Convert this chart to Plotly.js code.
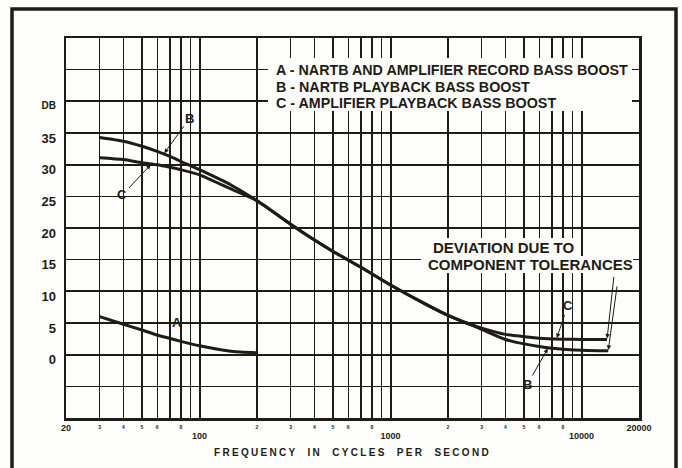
<!DOCTYPE html>
<html><head><meta charset="utf-8">
<script src="https://cdn.plot.ly/plotly-3.0.1.min.js"></script>
<style>
html,body{margin:0;padding:0;background:#fdfdfb}
.g-xtitle text{letter-spacing:2.3px}
</style>
</head><body><div id="chart" style="width:682px;height:468px"></div>
<script>
// ---- data ----
const freqA = [30, 40, 50, 60, 80, 100, 134, 150, 200];
const dbA   = [6.0, 4.8, 3.9, 3.1, 2.1, 1.4, 0.7, 0.5, 0.3];

const freqB = [30, 40, 50, 60, 70, 80, 100, 150, 200, 300, 400, 500, 700, 1000, 1500, 2000, 2500, 3000, 4000, 5000, 6000, 8000, 10000, 13800];
const dbB   = [34.3, 33.7, 32.9, 32.1, 31.3, 30.5, 29.2, 26.6, 24.3, 20.6, 18.1, 16.3, 13.8, 11.0, 8.1, 6.2, 5.0, 4.0, 2.4, 1.7, 1.3, 0.85, 0.7, 0.6];

const freqC = [30, 40, 50, 60, 70, 80, 100, 150, 200, 300, 400, 500, 700, 1000, 1500, 2000, 2500, 3000, 4000, 5000, 6000, 8000, 10000, 13600];
const dbC   = [31.1, 30.8, 30.3, 30.0, 29.6, 29.2, 28.4, 26.0, 24.3, 20.6, 18.1, 16.3, 13.8, 11.0, 8.1, 6.2, 5.0, 4.2, 3.2, 2.85, 2.6, 2.45, 2.4, 2.4];

const legendLines = [
  'A - NARTB AND AMPLIFIER RECORD BASS BOOST',
  'B - NARTB PLAYBACK BASS BOOST',
  'C - AMPLIFIER PLAYBACK BASS BOOST'
];
const noteLines = ['DEVIATION DUE TO', 'COMPONENT TOLERANCES'];
const xTitle = 'FREQUENCY  IN  CYCLES  PER  SECOND';

// axis ticks / grid
const xGridMajor = [50, 100, 500, 1000, 5000, 10000];
const xGridMinor = [30, 40, 60, 70, 80, 90, 200, 300, 400, 600, 700, 800, 900, 2000, 3000, 4000, 6000, 7000, 8000, 9000];
const xEndVals = [20, 20000];
const xEndText = ['20', '20000'];
const xDecVals = [100, 1000, 10000];
const xDecText = ['100', '1000', '10000'];
const xSmallVals = [30, 40, 50, 60, 80, 200, 300, 400, 500, 600, 800, 2000, 3000, 4000, 5000, 6000, 8000];
const xSmallText = ['3', '4', '5', '6', '8', '2', '3', '4', '5', '6', '8', '2', '3', '4', '5', '6', '8'];
const yGridMajor = [0, 10, 20, 30, 40];
const yGridMinor = [-5, 5, 15, 25, 35, 45];
const yLabVals = [0, 5, 10, 15, 20, 25, 30, 35];
const yLabText = ['0', '5', '10', '15', '20', '25', '30', '35'];
const yUnitVal = [40];
const yUnitText = ['DB'];

// ---- styling ----
const INK = '#1f1c15';
const BG = '#fdfdfb';
const FONT = 'Liberation Sans, Arial, sans-serif';
const xr = [Math.log10(20), Math.log10(20000)];
const yr = [-10, 50];

function interp(fs, ds, f) {
  const lf = Math.log10(f);
  for (let i = 0; i < fs.length - 1; i++) {
    const a = Math.log10(fs[i]), b = Math.log10(fs[i + 1]);
    if (lf >= a && lf <= b) return ds[i] + (ds[i + 1] - ds[i]) * (lf - a) / (b - a);
  }
  return ds[ds.length - 1];
}

const curve = (x, y) => ({
  x: x, y: y, type: 'scatter', mode: 'lines',
  line: {color: INK, width: 3, shape: 'spline', smoothing: 0.6},
  hoverinfo: 'skip', showlegend: false
});
const dummy = (xa, ya) => ({x: [], y: [], type: 'scatter', mode: 'lines', xaxis: xa, yaxis: ya, hoverinfo: 'skip', showlegend: false});

const traces = [
  curve(freqA, dbA), curve(freqB, dbB), curve(freqC, dbC),
  dummy('x2', 'y'), dummy('x3', 'y'), dummy('x4', 'y'),
  dummy('x', 'y2'), dummy('x', 'y3')
];

const labAxisX = (vals, text, size, standoff) => ({
  overlaying: 'x', anchor: 'y', side: 'bottom', type: 'log', range: xr,
  tickmode: 'array', tickvals: vals, ticktext: text, ticks: '',
  tickfont: {family: FONT, size: size, color: INK, weight: 'bold'},
  ticklabelstandoff: standoff, showgrid: false, zeroline: false, showline: false, fixedrange: true
});
const labAxisY = (vals, text, size, shift) => ({
  overlaying: 'y', anchor: 'x', side: 'left', range: yr,
  tickmode: 'array', tickvals: vals, ticktext: text, ticks: '',
  tickfont: {family: FONT, size: size, color: INK, weight: 'bold'},
  ticklabelstandoff: 9, ticklabelshift: shift, showgrid: false, zeroline: false, showline: false, fixedrange: true
});

const px = v => (v - 66) / 573;   // page position -> paper fraction
const py = v => (418 - v) / 380;

const anns = [];
legendLines.forEach((t, i) => anns.push({
  xref: 'paper', yref: 'paper', x: px(274), y: py(70 + i * 16.7), xanchor: 'left', yanchor: 'middle',
  text: t, showarrow: false, font: {family: FONT, size: 14.3, color: INK, weight: 'bold'}
}));
anns.push({xref: 'paper', yref: 'paper', x: px(431), y: py(247), xanchor: 'left', yanchor: 'middle',
  text: noteLines[0], showarrow: false, font: {family: FONT, size: 15, color: INK, weight: 'bold'}});
anns.push({xref: 'paper', yref: 'paper', x: px(426), y: py(264), xanchor: 'left', yanchor: 'middle',
  text: noteLines[1], showarrow: false, font: {family: FONT, size: 15, color: INK, weight: 'bold'}});
anns.push({xref: 'paper', yref: 'paper', x: px(177), y: py(322), xanchor: 'center', yanchor: 'middle',
  text: 'A', showarrow: false, font: {family: FONT, size: 13, color: INK, weight: 'bold'}});

const arrowAnn = (fs, ds, f, text, ax, ay) => ({
  xref: 'x', yref: 'y', x: Math.log10(f), y: interp(fs, ds, f), text: text,
  showarrow: true, ax: ax, ay: ay, arrowhead: 2, arrowsize: 0.9, arrowwidth: 1, arrowcolor: INK, standoff: 1,
  font: {family: FONT, size: 13, color: INK, weight: 'bold'}
});
anns.push(arrowAnn(freqB, dbB, 65, 'B', 26, -36));
anns.push(arrowAnn(freqC, dbC, 56, 'C', -29, 31));
anns.push(arrowAnn(freqC, dbC, 7400, 'C', 11, -33));
anns.push(arrowAnn(freqB, dbB, 6700, 'B', -21, 37));
anns.push(arrowAnn(freqC, dbC, freqC[freqC.length - 1], '', 7, -64));
anns.push(arrowAnn(freqB, dbB, freqB[freqB.length - 1], '', 9, -66));

const mask = (x0, x1, y0, y1) => ({type: 'rect', xref: 'paper', yref: 'paper', x0: px(x0), x1: px(x1), y0: py(y1), y1: py(y0),
  fillcolor: BG, line: {width: 0}, layer: 'above'});
const shapes = [
  mask(268, 632, 58, 111),
  mask(426, 580, 238, 256),
  mask(421, 633, 256, 273),
  {type: 'rect', xref: 'paper', yref: 'paper', x0: px(12), x1: px(676), y0: py(475), y1: py(9), fillcolor: 'rgba(0,0,0,0)', line: {color: INK, width: 3.5}, layer: 'above'}
];

const layout = {
  width: 682, height: 468,
  margin: {l: 66, r: 43, t: 38, b: 50, pad: 0},
  paper_bgcolor: BG, plot_bgcolor: BG, showlegend: false,
  font: {family: FONT, color: INK},
  xaxis: {
    type: 'log', range: xr, tickmode: 'array', tickvals: xGridMajor, showticklabels: false, ticks: '',
    showgrid: true, gridcolor: INK, gridwidth: 2,
    minor: {tickmode: 'array', tickvals: xGridMinor, showgrid: true, gridcolor: INK, gridwidth: 1.2, ticks: ''},
    showline: true, mirror: true, linecolor: INK, linewidth: 2.5, zeroline: false, fixedrange: true,
    title: {text: xTitle, standoff: 30, font: {family: FONT, size: 10, color: INK, weight: 'bold'}}
  },
  yaxis: {
    range: yr, tickmode: 'array', tickvals: yGridMajor, showticklabels: false, ticks: '',
    showgrid: true, gridcolor: INK, gridwidth: 2,
    minor: {tickmode: 'array', tickvals: yGridMinor, showgrid: true, gridcolor: INK, gridwidth: 1.2, ticks: ''},
    showline: true, mirror: true, linecolor: INK, linewidth: 2.5, zeroline: false, fixedrange: true
  },
  xaxis2: labAxisX(xEndVals, xEndText, 9, 3),
  xaxis3: labAxisX(xSmallVals, xSmallText, 5, 5),
  xaxis4: labAxisX(xDecVals, xDecText, 9, 11),
  yaxis2: labAxisY(yLabVals, yLabText, 13, 5),
  yaxis3: labAxisY(yUnitVal, yUnitText, 10, 4),
  annotations: anns,
  shapes: shapes
};

Plotly.newPlot('chart', traces, layout, {staticPlot: true, displayModeBar: false});
</script></body></html>
